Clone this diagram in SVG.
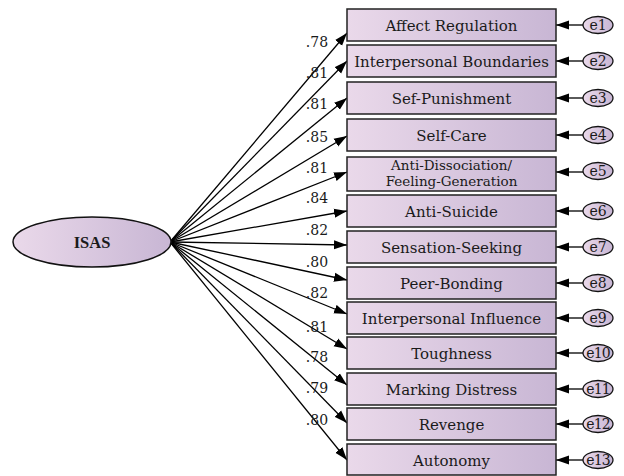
<svg xmlns="http://www.w3.org/2000/svg" width="624" height="476" viewBox="0 0 624 476">
<defs>
<linearGradient id="g" x1="0" y1="0" x2="1" y2="0">
<stop offset="0" stop-color="#ead9ea"/>
<stop offset="1" stop-color="#c8b6d4"/>
</linearGradient>
<marker id="ah" markerUnits="userSpaceOnUse" markerWidth="14" markerHeight="10" refX="13" refY="5" orient="auto">
<path d="M0,0.5 L13,5 L0,9.5 Z" fill="#000"/>
</marker>
<style>
.box{fill:url(#g);stroke:#222;stroke-width:1.5}
.err{fill:url(#g);stroke:#111;stroke-width:1.3}
.t{font-family:"DejaVu Serif","Liberation Serif",serif;font-size:15px;fill:#1a1a1a;text-anchor:middle}
.t2{font-family:"DejaVu Serif","Liberation Serif",serif;font-size:13.5px;fill:#1a1a1a;text-anchor:middle}
.e{font-family:"DejaVu Serif","Liberation Serif",serif;font-size:14px;fill:#1a1a1a;text-anchor:middle}
.w{font-family:"DejaVu Serif","Liberation Serif",serif;font-size:14px;fill:#1a1a1a;text-anchor:middle}
.c{stroke:#000;stroke-width:1.3;fill:none;marker-end:url(#ah)}
</style>
</defs>
<g id="connectors">
<line class="c" x1="170" y1="242" x2="347" y2="33"/>
<line class="c" x1="170" y1="242" x2="347" y2="61"/>
<line class="c" x1="170" y1="242" x2="347" y2="98"/>
<line class="c" x1="170" y1="242" x2="347" y2="136"/>
<line class="c" x1="170" y1="242" x2="347" y2="172"/>
<line class="c" x1="170" y1="242" x2="347" y2="211"/>
<line class="c" x1="170" y1="242" x2="347" y2="245"/>
<line class="c" x1="170" y1="242" x2="347" y2="280"/>
<line class="c" x1="170" y1="242" x2="347" y2="314"/>
<line class="c" x1="170" y1="242" x2="347" y2="349"/>
<line class="c" x1="170" y1="242" x2="347" y2="385"/>
<line class="c" x1="170" y1="242" x2="347" y2="423"/>
<line class="c" x1="170" y1="242" x2="347" y2="460"/>
<line class="c" x1="583" y1="25" x2="556" y2="25"/>
<line class="c" x1="583" y1="61" x2="556" y2="61"/>
<line class="c" x1="583" y1="98" x2="556" y2="98"/>
<line class="c" x1="583" y1="135" x2="556" y2="135"/>
<line class="c" x1="583" y1="172" x2="556" y2="172"/>
<line class="c" x1="583" y1="211" x2="556" y2="211"/>
<line class="c" x1="583" y1="247" x2="556" y2="247"/>
<line class="c" x1="583" y1="283" x2="556" y2="283"/>
<line class="c" x1="583" y1="318" x2="556" y2="318"/>
<line class="c" x1="583" y1="353" x2="556" y2="353"/>
<line class="c" x1="583" y1="389" x2="556" y2="389"/>
<line class="c" x1="583" y1="424" x2="556" y2="424"/>
<line class="c" x1="583" y1="460" x2="556" y2="460"/>
</g>
<g id="weights">
<text class="w" x="317" y="47">.78</text>
<text class="w" x="317" y="78">.81</text>
<text class="w" x="317" y="109">.81</text>
<text class="w" x="317" y="142">.85</text>
<text class="w" x="317" y="173">.81</text>
<text class="w" x="317" y="203">.84</text>
<text class="w" x="317" y="235">.82</text>
<text class="w" x="317" y="267">.80</text>
<text class="w" x="317" y="298">.82</text>
<text class="w" x="317" y="332">.81</text>
<text class="w" x="317" y="362">.78</text>
<text class="w" x="317" y="393">.79</text>
<text class="w" x="317" y="425">.80</text>
</g>
<g id="isas">
<ellipse cx="92" cy="242" rx="79" ry="25" fill="url(#g)" stroke="#111" stroke-width="1.5"/>
<text x="92" y="248" font-family="'Liberation Serif',serif" font-weight="bold" font-size="16.5" fill="#1a1a1a" text-anchor="middle">ISAS</text>
</g>
<g id="n1"><rect class="box" x="347" y="9" width="209" height="32"/><text class="t" x="451.5" y="30.5">Affect Regulation</text></g>
<g id="n2"><rect class="box" x="347" y="45" width="209" height="32"/><text class="t" x="451.5" y="66.5">Interpersonal Boundaries</text></g>
<g id="n3"><rect class="box" x="347" y="82" width="209" height="32"/><text class="t" x="451.5" y="103.5">Sef-Punishment</text></g>
<g id="n4"><rect class="box" x="347" y="119" width="209" height="32"/><text class="t" x="451.5" y="140.5">Self-Care</text></g>
<g id="n5"><rect class="box" x="347" y="157" width="209" height="34"/><text class="t2" x="451.5" y="170">Anti-Dissociation/</text><text class="t2" x="451.5" y="186">Feeling-Generation</text></g>
<g id="n6"><rect class="box" x="347" y="195" width="209" height="32"/><text class="t" x="451.5" y="216.5">Anti-Suicide</text></g>
<g id="n7"><rect class="box" x="347" y="231" width="209" height="32"/><text class="t" x="451.5" y="252.5">Sensation-Seeking</text></g>
<g id="n8"><rect class="box" x="347" y="267" width="209" height="32"/><text class="t" x="451.5" y="288.5">Peer-Bonding</text></g>
<g id="n9"><rect class="box" x="347" y="302" width="209" height="32"/><text class="t" x="451.5" y="323.5">Interpersonal Influence</text></g>
<g id="n10"><rect class="box" x="347" y="337" width="209" height="32"/><text class="t" x="451.5" y="358.5">Toughness</text></g>
<g id="n11"><rect class="box" x="347" y="373" width="209" height="32"/><text class="t" x="451.5" y="394.5">Marking Distress</text></g>
<g id="n12"><rect class="box" x="347" y="408" width="209" height="32"/><text class="t" x="451.5" y="429.5">Revenge</text></g>
<g id="n13"><rect class="box" x="347" y="444" width="209" height="31"/><text class="t" x="451.5" y="465.5">Autonomy</text></g>
<g id="e1"><ellipse class="err" cx="598" cy="25" rx="15" ry="8.5"/><text class="e" x="598" y="30">e1</text></g>
<g id="e2"><ellipse class="err" cx="598" cy="61" rx="15" ry="8.5"/><text class="e" x="598" y="66">e2</text></g>
<g id="e3"><ellipse class="err" cx="598" cy="98" rx="15" ry="8.5"/><text class="e" x="598" y="103">e3</text></g>
<g id="e4"><ellipse class="err" cx="598" cy="135" rx="15" ry="8.5"/><text class="e" x="598" y="140">e4</text></g>
<g id="e5"><ellipse class="err" cx="598" cy="171" rx="15" ry="8.5"/><text class="e" x="598" y="176">e5</text></g>
<g id="e6"><ellipse class="err" cx="598" cy="211" rx="15" ry="8.5"/><text class="e" x="598" y="216">e6</text></g>
<g id="e7"><ellipse class="err" cx="598" cy="247" rx="15" ry="8.5"/><text class="e" x="598" y="252">e7</text></g>
<g id="e8"><ellipse class="err" cx="598" cy="283" rx="15" ry="8.5"/><text class="e" x="598" y="288">e8</text></g>
<g id="e9"><ellipse class="err" cx="598" cy="318" rx="15" ry="8.5"/><text class="e" x="598" y="323">e9</text></g>
<g id="e10"><ellipse class="err" cx="598" cy="353" rx="15" ry="8.5"/><text class="e" x="598" y="358" letter-spacing="-0.8">e10</text></g>
<g id="e11"><ellipse class="err" cx="598" cy="389" rx="15" ry="8.5"/><text class="e" x="598" y="394" letter-spacing="-0.8">e11</text></g>
<g id="e12"><ellipse class="err" cx="598" cy="424" rx="15" ry="8.5"/><text class="e" x="598" y="429" letter-spacing="-0.8">e12</text></g>
<g id="e13"><ellipse class="err" cx="598" cy="460" rx="15" ry="8.5"/><text class="e" x="598" y="465" letter-spacing="-0.8">e13</text></g>
</svg>
